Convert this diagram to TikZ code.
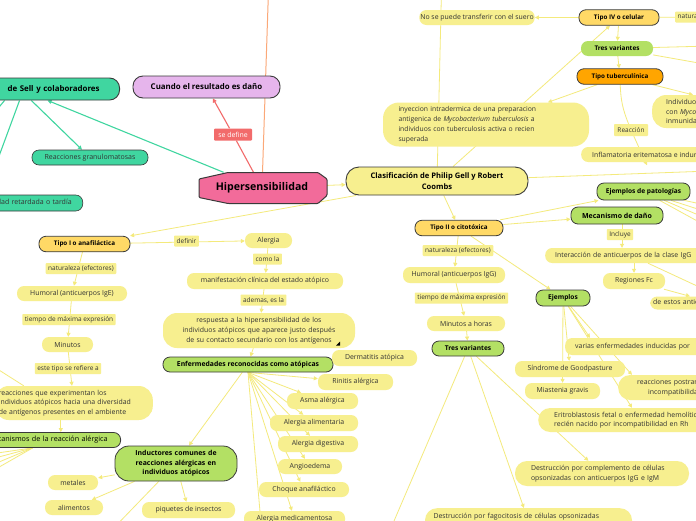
\documentclass[tikz,border=0pt]{standalone}
\usepackage{fontspec}
\setmainfont{Open Sans}
\usetikzlibrary{arrows.meta,backgrounds,calc}
\definecolor{ylw}{HTML}{F7EF8F}
\definecolor{yline}{HTML}{F4EA7C}
\definecolor{lime}{HTML}{B3E064}
\definecolor{tealg}{HTML}{40D6A0}
\definecolor{tipoc}{HTML}{FFD966}
\definecolor{tubc}{HTML}{FFA500}
\definecolor{pinkc}{HTML}{F26B9A}
\definecolor{lavc}{HTML}{E6B5EC}
\definecolor{redc}{HTML}{F26B6B}
\definecolor{orl}{HTML}{FBA878}
\definecolor{bord}{HTML}{3A3A3A}
\definecolor{txt}{HTML}{333333}
\tikzset{
 base/.style={font=\fontsize{6.9}{9}\selectfont, text=txt, inner sep=1pt, align=center},
 yn/.style={base, fill=ylw, rounded corners=7pt, minimum height=15pt},
 lb/.style={base, font=\fontsize{6.5}{8}\selectfont, fill=ylw, rounded corners=0.8pt, minimum height=11pt, inner xsep=2.5pt},
 gn/.style={base, font=\fontsize{6.6}{8.5}\selectfont\bfseries, text=black, fill=lime, draw=bord, line width=0.8pt, rounded corners=7pt, minimum height=15pt},
 tp/.style={base, font=\fontsize{6.3}{8}\selectfont\bfseries, text=black, fill=tipoc, draw=bord, line width=0.8pt, rounded corners=7pt, minimum height=15.5pt},
 tl/.style={base, font=\fontsize{7}{8}\selectfont, fill=tealg, draw=bord, line width=0.6pt, rounded corners=7pt, minimum height=15pt},
 ln/.style={draw=yline, line width=0.8pt},
 tln/.style={draw=tealg, line width=1.1pt},
 rln/.style={draw=redc, line width=1.1pt},
 oln/.style={draw=orl, line width=1pt},
 ar/.style={-{Triangle[length=4pt,width=4pt]}},
}
\begin{document}
\begin{tikzpicture}[x=1pt,y=-1pt]
\useasboundingbox (0,0) rectangle (696,520);
\clip (0,0) rectangle (696,520);
% off-canvas free ends
\coordinate (offS) at (-10,118);
\coordinate (offT) at (268.5,-10);
\coordinate (offE1) at (262,535);
\coordinate (offA) at (-20,358);
\coordinate (offM1) at (-20,455.5);
\coordinate (offM2) at (-20,462);
\coordinate (offM3) at (-20,470);
\coordinate (offM4) at (-20,478);
\coordinate (offI) at (107,535);
\coordinate (offC1) at (441.5,-10);
\coordinate (offC2) at (710,171);
\coordinate (offT1) at (710,46);
\coordinate (offT2) at (710,65);
\coordinate (offR1) at (710,292);
\coordinate (offP1) at (710,206);
\coordinate (offP2) at (710,213);
\coordinate (offP3) at (710,220);
\coordinate (offP4) at (710,228);
\coordinate (offX) at (388,535);

% ---------- left / centre ----------
\node[base, font=\fontsize{7.9}{9}\selectfont\bfseries, text=black, fill=lavc, draw=bord, line width=0.9pt, rounded corners=10pt, minimum width=147pt, minimum height=22pt] (cuando) at (206.5,87) {Cuando el resultado es daño};
\node[base, fill=redc, text=white, rounded corners=1pt, minimum width=38pt, minimum height=12pt] (sedef) at (233,134.5) {se define};
\node[tl, font=\fontsize{7.9}{9}\selectfont\bfseries, text=black, minimum height=22pt, line width=0.9pt, rounded corners=10pt, anchor=east, text width=160pt, align=right, inner xsep=20pt] (sell) at (120,89) {de Sell y colaboradores};
\node[tl, minimum width=116pt] (gran) at (90,157.5) {Reacciones granulomatosas};
\node[tl, anchor=east, text width=180pt, align=right, inner xsep=11pt, minimum height=16pt] (retard) at (83,203) {Hipersensibilidad retardada o tardía};

\filldraw[fill=pinkc, draw=bord, line width=1pt, rounded corners=1pt] (199,179) -- (228,172.5) -- (318,172.5) -- (327,179) -- (327,195.5) -- (318,203.5) -- (228,203.5) -- (199,197.5) -- cycle;
\node[base, font=\fontsize{10.6}{12}\selectfont\bfseries, text=black, minimum width=128pt, minimum height=31pt] (hip) at (262,188) {Hipersensibilidad};

\node[base, font=\fontsize{7.6}{11}\selectfont\bfseries, text=black, fill=ylw, draw=bord, line width=0.9pt, rounded corners=13pt, minimum width=182pt, minimum height=28pt] (clas) at (437,181) {Clasificación de Philip Gell y Robert\\Coombs};

\node[tp, minimum width=91pt] (tipoI) at (84.5,244) {Tipo I o anafiláctica};
\node[lb] (definir) at (186.5,241) {definir};
\node[yn, minimum width=47pt] (alergia) at (268.5,240.5) {Alergia};
\node[lb] (comola) at (267.5,259) {como la};
\node[yn, minimum width=156pt, minimum height=16pt] (manif) at (265,281) {manifestación clínica del estado atópico};
\node[lb] (ademas) at (263.5,300) {ademas, es la};
\node[yn, minimum width=192pt, minimum height=35pt, text width=185pt, rounded corners=14pt, font=\fontsize{6.9}{10}\selectfont] (resp) at (259,330.5) {respuesta a la hipersensibilidad de los\\individuos atópicos que aparece justo después\\de su contacto secundario con los antígenos};
\fill[black] (336,345.5) -- (340,345.5) -- (340,341.5) -- cycle;
\node[gn, minimum width=170pt, font=\fontsize{6.8}{8.5}\selectfont\bfseries] (enfer) at (248,364.5) {Enfermedades reconocidas como atópicas};
\node[yn, minimum width=85pt, minimum height=16pt] (derm) at (374.5,358) {Dermatitis atópica};
\node[yn, minimum width=75pt, minimum height=16pt] (rinit) at (355.5,382) {Rinitis alérgica};
\node[yn, minimum width=71pt, minimum height=16pt] (asma) at (322.5,401) {Asma alérgica};
\node[yn, minimum width=88pt, minimum height=16pt] (alimen) at (314,423) {Alergia alimentaria};
\node[yn, minimum width=80pt, minimum height=16pt] (digest) at (318,444) {Alergia digestiva};
\node[yn, minimum width=64pt] (angio) at (310,466.5) {Angioedema};
\node[yn, minimum width=90pt] (choque) at (304,489.5) {Choque anafiláctico};
\node[yn, minimum width=101pt, minimum height=16pt] (medic) at (294.5,519) {Alergia medicamentosa};

\node[lb] (natI) at (81,268.5) {naturaleza (efectores)};
\node[yn, minimum width=110pt] (humI) at (72,293.5) {Humoral (anticuerpos IgE)};
\node[lb] (tiempoI) at (69,319.5) {tiempo de máxima expresión};
\node[yn, minimum width=51pt] (minI) at (67.5,344.5) {Minutos};
\node[lb] (este) at (68,368.5) {este tipo se refiere a};
\node[yn, anchor=east, minimum height=34pt, text width=150pt, align=left, inner xsep=4pt, rounded corners=14pt, font=\fontsize{6.9}{9.5}\selectfont] (reacc) at (153,403) {reacciones que experimentan los\\individuos atópicos hacia una diversidad\\de antígenos presentes en el ambiente};
\node[gn, font=\fontsize{7.2}{8}\selectfont, anchor=east, text width=150pt, align=right, inner xsep=13pt] (mecan) at (121,440) {Mecanismos de la reacción alérgica};
\node[gn, minimum width=122pt, minimum height=35pt, text width=115pt, rounded corners=14pt, font=\fontsize{6.9}{9.5}\selectfont\bfseries] (induct) at (176,463.5) {Inductores comunes de\\reacciones alérgicas en\\individuos atópicos};
\node[yn, minimum width=50pt] (metal) at (73,482.5) {metales};
\node[yn, minimum width=58pt] (alim2) at (74,507.5) {alimentos};
\node[yn, minimum width=93pt, minimum height=16pt] (piquet) at (188.5,510) {piquetes de insectos};

% ---------- right ----------
\node[yn, minimum width=114pt] (nose) at (477,17.5) {No se puede transferir con el suero};
\node[tp, minimum width=80pt] (tipoIV) at (619,17.5) {Tipo IV o celular};
\node[lb, anchor=west] (naturIV) at (675,17) {naturaleza (efectores)};
\node[base, font=\fontsize{6.4}{8}\selectfont\bfseries, text=black, fill=lime, rounded corners=7pt, minimum width=72pt, minimum height=15pt] (tresIV) at (617,48.5) {Tres variantes};
\node[tp, fill=tubc, minimum width=86pt] (tuber) at (620,76.5) {Tipo tuberculínica};
\node[yn, minimum width=206pt, minimum height=44pt, text width=175pt, align=left, inner xsep=15.5pt, rounded corners=16pt, font=\fontsize{6.8}{10}\selectfont] (inyec) at (486,124.5) {inyeccion intradermica de una preparacion\\antigenica de \textit{Mycobacterium tuberculosis} a\\individuos con tuberculosis activa o recien\\superada};
\node[yn, anchor=west, minimum height=33pt, text width=130pt, align=left, inner xsep=14pt, rounded corners=14pt, font=\fontsize{6.9}{9.5}\selectfont] (indiv) at (652,111.5) {Individuos sensibilizados\\con \textit{Mycobacterium tuberculosis}\\inmunidad celular};
\node[lb, minimum width=34pt, minimum height=12pt] (reacIV) at (631,130) {Reacción};
\node[yn, anchor=west, inner xsep=11pt] (inflam) at (581,154.5) {Inflamatoria eritematosa e induración};
\node[gn, minimum width=93pt, minimum height=17pt] (ejpat) at (643.5,191.5) {Ejemplos de patologías};
\node[gn, minimum width=92pt, minimum height=17pt, font=\fontsize{7}{8.5}\selectfont\bfseries] (mecdan) at (617,215.5) {Mecanismo de daño};
\node[tp, minimum width=88pt] (tipoII) at (459,228) {Tipo II o citotóxica};
\node[lb] (incl) at (620,234.5) {Incluye};
\node[yn, anchor=west, inner xsep=10pt, text width=200pt, align=left] (interac) at (545,255.5) {Interacción de anticuerpos de la clase IgG};
\node[yn, minimum width=62pt, minimum height=16pt] (regfc) at (634,281) {Regiones Fc};
\node[yn, anchor=west, inner xsep=3pt, minimum height=13pt, text width=80pt, align=left] (estos) at (650,303) {de estos anticuerpos};
\node[lb] (natII) at (458,250.5) {naturaleza (efectores)};
\node[yn, minimum width=102pt, minimum height=16pt] (humII) at (454,275) {Humoral (anticuerpos IgG)};
\node[lb] (tiempoII) at (461.5,298) {tiempo de máxima expresión};
\node[yn, minimum width=78pt] (minII) at (466,323.5) {Minutos a horas};
\node[gn, minimum width=72pt] (tresII) at (468,348.5) {Tres variantes};
\node[gn, minimum width=54pt, minimum height=16pt] (ejem) at (563,298) {Ejemplos};
\node[yn, anchor=west, inner xsep=10pt, minimum height=17pt, text width=150pt, align=left] (varias) at (565,346.5) {varias enfermedades inducidas por};
\node[yn, minimum width=110pt, minimum height=16pt] (goodp) at (570,369) {Síndrome de Goodpasture};
\node[yn, minimum width=75pt, minimum height=16pt] (miast) at (562.5,391) {Miastenia gravis};
\node[yn, anchor=west, minimum height=25pt, text width=150pt, align=left, inner xsep=19pt, rounded corners=12pt, font=\fontsize{6.9}{9.5}\selectfont] (postra) at (618,387.5) {reacciones postransfusionales\\\hspace*{11pt}incompatibilidad};
\node[yn, anchor=west, minimum height=24pt, text width=200pt, align=left, inner xsep=16pt, rounded corners=12pt, font=\fontsize{6.9}{9.5}\selectfont] (eritro) at (538,420) {Eritroblastosis fetal o enfermedad hemolítica del\\recién nacido por incompatibilidad en Rh};
\node[yn, minimum width=174pt, minimum height=25pt, text width=142pt, align=left, inner xsep=16pt, rounded corners=12pt, font=\fontsize{6.9}{10.5}\selectfont] (destcomp) at (602,473.5) {Destrucción por complemento de células\\opsonizadas con anticuerpos IgG e IgM};
\node[yn, anchor=north, minimum width=207pt, minimum height=26pt, text width=190pt, align=left, inner xsep=8.5pt, rounded corners=12pt, font=\fontsize{6.9}{10.5}\selectfont] (destfag) at (528.5,508) {Destrucción por fagocitosis de células opsonizadas\\\mbox{}};

% ---------- connectors (behind nodes) ----------
\begin{pgfonlayer}{background}
\fill[white] (0,0) rectangle (696,520);
\clip (0,0) rectangle (696,520);
\draw[tln, ar] (hip) -- (sell);
\draw[tln, ar] (sell) -- (gran);
\draw[tln, ar] (sell.south) -- (retard);
\draw[tln] ([xshift=-15pt]sell.south) -- (offS);
\draw[rln] (hip) -- (sedef);
\draw[rln, ar] (sedef) -- (cuando);
\draw[oln] (hip) -- (offT);

\draw[ln, ar] (hip) -- (clas);
\draw[ln, ar] (clas) -- (tipoI);
\draw[ln, ar] (tipoI) -- (alergia);
\draw[ln, ar] (alergia) -- (manif);
\draw[ln, ar] (manif) -- (resp);
\draw[ln, ar] (resp) -- (enfer);
\draw[ln, ar] (enfer) -- (derm);
\foreach \n in {rinit,asma,alimen,digest,angio,choque,medic} \draw[ln, ar] (enfer.south) -- (\n);
\draw[ln] (enfer.south) -- (offE1);
\draw[ln, ar] (enfer) -- (induct);
\draw[ln, ar] (tipoI) -- (humI);
\draw[ln, ar] (humI) -- (minI);
\draw[ln, ar] (minI) -- (reacc);
\draw[ln, ar] ([xshift=-13pt]reacc.south) -- ([xshift=-13pt]reacc.south |- mecan.north);
\draw[ln] (offA) -- ([xshift=-50pt]reacc.north);
\foreach \c in {offM1,offM2,offM3,offM4} \draw[ln] (mecan.south) -- (\c);
\draw[ln, ar] (induct) -- (metal);
\draw[ln, ar] (induct) -- (alim2);
\draw[ln, ar] (induct) -- (piquet);
\draw[ln] (induct) -- (offI);

\draw[ln, ar] (clas) -- (tipoII);
\draw[ln, ar] (clas) -- (tipoIV);
\draw[ln] (clas) -- (offC1);
\draw[ln] (clas) -- (offC2);
\draw[ln, ar] (tipoIV) -- (nose);
\draw[ln] (tipoIV) -- (naturIV);
\draw[ln, ar] (tipoIV) -- (tresIV);
\draw[ln, ar] (tresIV) -- (tuber);
\draw[ln] (tresIV) -- (offT1);
\draw[ln] (tresIV) -- (offT2);
\draw[ln, ar] (tuber) -- (inyec);
\draw[ln, ar] (tuber) -- ([xshift=41pt]indiv.north west);
\draw[ln] (tuber) to[bend right=10] (reacIV);
\draw[ln, ar] (reacIV) -- ([xshift=66pt,yshift=-3pt]inflam.south west);
\draw[ln, ar] (tipoII) -- (ejpat);
\draw[ln, ar] (tipoII) -- (mecdan);
\draw[ln, ar] ([xshift=5pt]mecdan.south) -- ([xshift=5pt]mecdan.south |- interac.north);
\draw[ln, ar] (regfc.north |- interac.south) -- (regfc.north);
\draw[ln] ([xshift=103pt]interac.south west) -- (offR1);
\draw[ln, ar] (regfc) -- ([xshift=40pt]estos.north west);
\draw[ln, ar] (tipoII) -- (humII);
\draw[ln, ar] (humII) -- (minII);
\draw[ln, ar] (minII) -- (tresII);
\draw[ln, ar] (tipoII) -- (ejem);
\foreach \c in {offP1,offP2,offP3,offP4} \draw[ln] (ejpat) -- (\c);
\draw[ln, ar] (ejem) -- ([xshift=25pt]varias.north west);
\draw[ln, ar] (ejem) -- (goodp);
\draw[ln, ar] (ejem) -- (miast);
\draw[ln, ar] (ejem) -- ([xshift=14pt]postra.north west);
\draw[ln, ar] (ejem) -- ([xshift=94pt]eritro.north west);
\draw[ln, ar] (tresII) -- (destcomp);
\draw[ln, ar] (tresII) -- (destfag);
\draw[ln] (tresII) -- (offX);
\end{pgfonlayer}
\end{tikzpicture}
\end{document}
